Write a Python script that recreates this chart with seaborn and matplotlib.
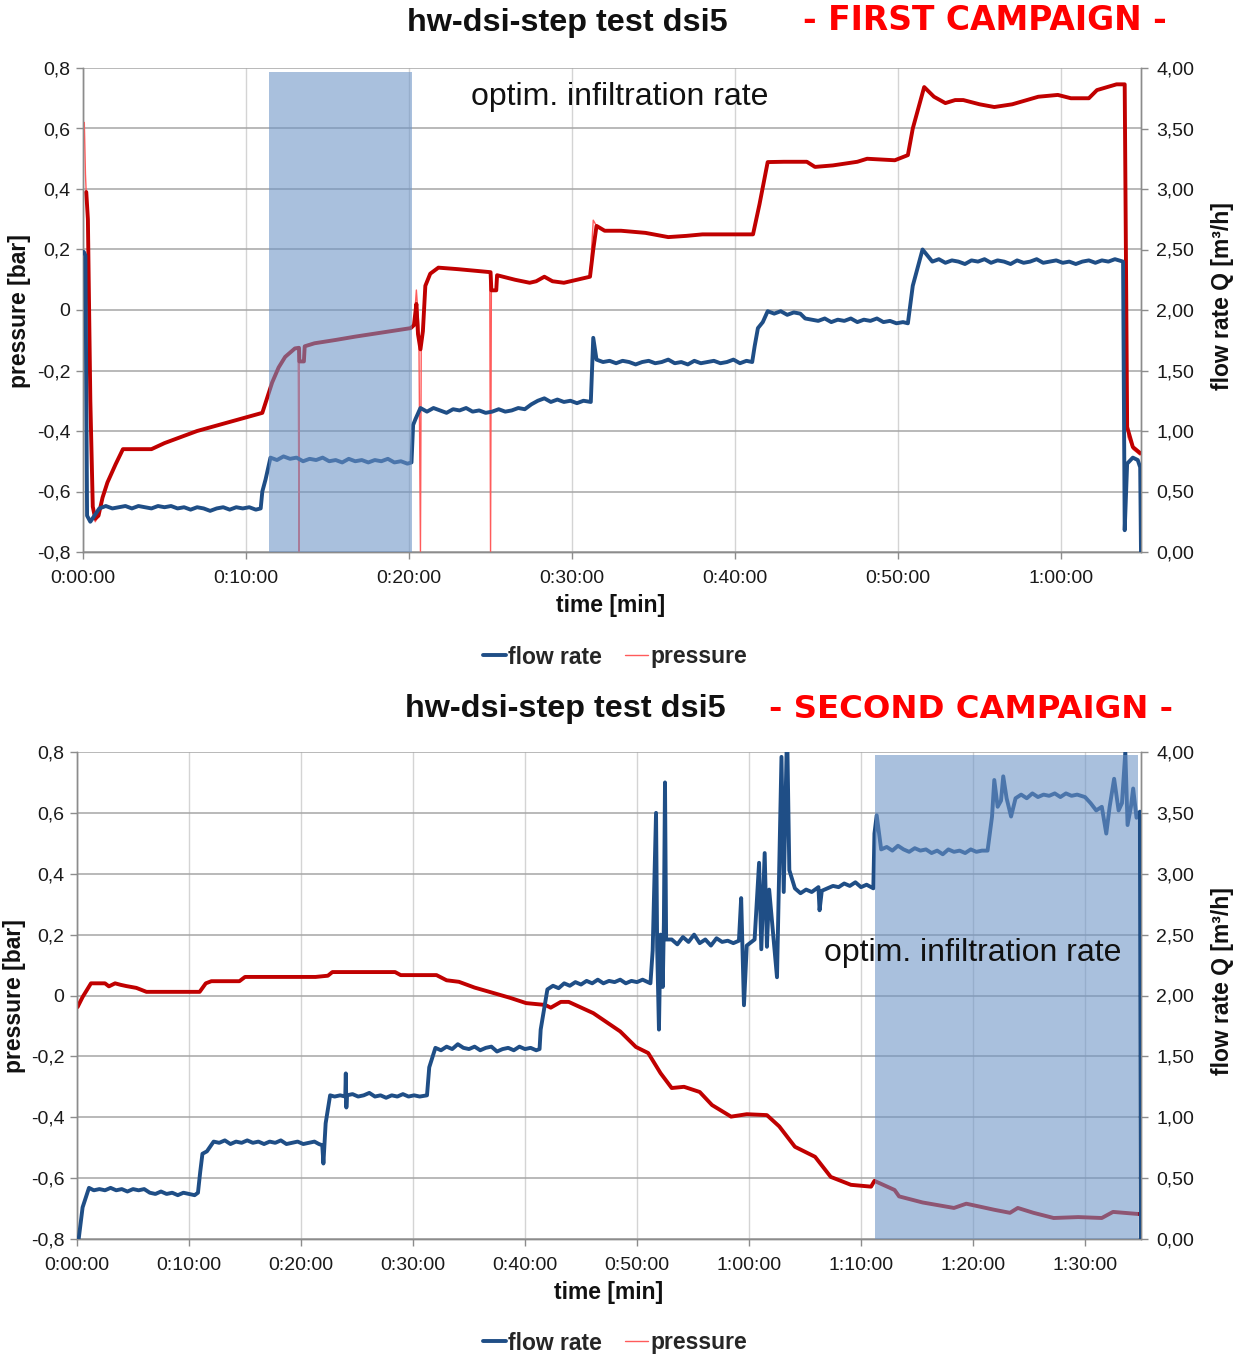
import matplotlib
matplotlib.use('Agg')
import matplotlib.pyplot as plt
import seaborn as sns
from matplotlib.lines import Line2D
from matplotlib.ticker import FuncFormatter, MultipleLocator

# ---------------- first campaign (time in minutes) ----------------
c1_flow_t = [0.05, 0.15, 0.25, 0.45, 0.7, 1.0, 1.4, 1.8, 2.2, 2.6, 3.0, 3.4, 3.8, 4.2, 4.6, 5.0,
             5.4, 5.8, 6.2, 6.6, 7.0, 7.4, 7.8, 8.2, 8.6, 9.0, 9.4, 9.8, 10.2, 10.6, 10.9,
             11.0, 11.2, 11.5, 11.9, 12.3, 12.7, 13.1, 13.5, 13.9, 14.3, 14.7, 15.1, 15.5, 15.9,
             16.3, 16.7, 17.1, 17.5, 17.9, 18.3, 18.7, 19.1, 19.5, 19.9, 20.15,
             20.25, 20.4, 20.7, 21.1, 21.5, 21.9, 22.3, 22.7, 23.1, 23.5, 23.9, 24.3, 24.7, 25.1,
             25.5, 25.9, 26.3, 26.7, 27.1,
             27.5, 27.9, 28.3, 28.7, 29.1, 29.5, 29.9, 30.3, 30.7, 31.15,
             31.3, 31.5, 31.9, 32.3, 32.7, 33.1, 33.5, 33.9, 34.3, 34.7, 35.1, 35.5, 35.9, 36.3,
             36.7, 37.1, 37.5, 37.9, 38.3, 38.7, 39.1, 39.5, 39.9, 40.3, 40.7, 41.05,
             41.2, 41.4, 41.7, 42.0, 42.4, 42.8, 43.2, 43.6, 44.0, 44.3, 44.7, 45.1, 45.5, 45.9,
             46.3, 46.7, 47.1, 47.5, 47.9, 48.3, 48.7, 49.1, 49.5, 49.9, 50.3, 50.6,
             50.9, 51.2, 51.5, 51.8, 52.1, 52.5, 52.9, 53.3, 53.7, 54.1, 54.5, 54.9, 55.3, 55.7,
             56.1, 56.5, 56.9, 57.3, 57.7, 58.1, 58.5, 58.9, 59.3, 59.7, 60.1, 60.5, 60.9, 61.3,
             61.7, 62.1, 62.5, 62.9, 63.3, 63.8,
             63.9, 64.05, 64.4, 64.7, 64.85, 64.9]
c1_flow = [2.48, 2.45, 0.30, 0.25, 0.30, 0.36, 0.38, 0.36, 0.37, 0.38, 0.36, 0.38, 0.37, 0.36, 0.38, 0.37,
           0.38, 0.36, 0.37, 0.35, 0.37, 0.36, 0.34, 0.36, 0.37, 0.35, 0.37, 0.36, 0.37, 0.35, 0.36,
           0.50, 0.60, 0.78, 0.76, 0.79, 0.77, 0.78, 0.75, 0.77, 0.76, 0.78, 0.75, 0.76, 0.74,
           0.77, 0.75, 0.76, 0.74, 0.76, 0.75, 0.77, 0.74, 0.75, 0.73, 0.74,
           1.05, 1.10, 1.19, 1.16, 1.19, 1.17, 1.15, 1.18, 1.17, 1.19, 1.16, 1.17, 1.15, 1.16,
           1.18, 1.16, 1.17, 1.19, 1.18,
           1.22, 1.25, 1.27, 1.24, 1.26, 1.24, 1.25, 1.23, 1.25, 1.24,
           1.77, 1.59, 1.57, 1.58, 1.56, 1.58, 1.57, 1.55, 1.57, 1.58, 1.56, 1.57, 1.59, 1.56,
           1.57, 1.55, 1.58, 1.56, 1.57, 1.58, 1.56, 1.57, 1.59, 1.56, 1.58, 1.57,
           1.70, 1.85, 1.90, 1.99, 1.97, 1.99, 1.96, 1.98, 1.97, 1.93, 1.92, 1.91, 1.93, 1.90,
           1.92, 1.91, 1.93, 1.90, 1.92, 1.91, 1.93, 1.90, 1.91, 1.89, 1.90, 1.89,
           2.20, 2.35, 2.50, 2.45, 2.40, 2.42, 2.39, 2.41, 2.40, 2.38, 2.41, 2.40, 2.42, 2.39,
           2.41, 2.40, 2.38, 2.41, 2.39, 2.40, 2.42, 2.39, 2.40, 2.41, 2.39, 2.40, 2.38, 2.40,
           2.41, 2.39, 2.41, 2.40, 2.42, 2.40,
           0.18, 0.73, 0.78, 0.76, 0.70, 0.0]

c1_ptrend_t = [0.2, 0.3, 0.45, 0.6, 0.75, 0.95, 1.2, 1.5, 2.0, 2.45, 4.2, 5.0, 6.0, 7.0, 8.0, 9.0,
               10.0, 11.0, 11.3, 11.6, 12.0, 12.4, 13.0, 13.25, 13.27, 13.55, 13.6, 14.2, 15.5,
               16.7, 18.4, 20.1, 20.3, 20.45, 20.55, 20.7, 20.85, 21.0, 21.3, 21.8, 23.0, 24.0,
               25.0, 25.05, 25.35, 25.4, 26.5, 27.4, 27.8, 28.3, 28.8, 29.5, 30.3, 31.1, 31.3,
               31.5, 32.0, 33.0, 34.5, 35.9, 37.0, 38.0, 41.1, 41.5, 42.0, 43.0, 44.4, 44.9, 46.0,
               47.5, 48.1, 49.8, 50.6, 50.9, 51.6, 52.2, 52.9, 53.5, 54.0, 55.0, 55.9, 57.0, 58.6,
               59.8, 60.6, 61.7, 62.2, 63.4, 63.9, 64.0, 64.05, 64.4, 64.85]
c1_ptrend = [0.39, 0.30, -0.30, -0.65, -0.69, -0.68, -0.62, -0.57, -0.51, -0.46, -0.46, -0.44, -0.42,
             -0.40, -0.385, -0.37, -0.355, -0.34, -0.29, -0.24, -0.19, -0.155, -0.127, -0.125,
             -0.17, -0.17, -0.12, -0.11, -0.099, -0.088, -0.074, -0.06, -0.05, 0.02, -0.08, -0.13,
             -0.07, 0.08, 0.12, 0.14, 0.135, 0.13, 0.125, 0.065, 0.065, 0.115, 0.10, 0.09, 0.095,
             0.11, 0.095, 0.09, 0.10, 0.11, 0.20, 0.278, 0.262, 0.262, 0.255, 0.241, 0.245, 0.25,
             0.25, 0.35, 0.489, 0.49, 0.49, 0.473, 0.478, 0.49, 0.50, 0.495, 0.512, 0.60, 0.737,
             0.705, 0.684, 0.694, 0.694, 0.68, 0.671, 0.68, 0.705, 0.711, 0.70, 0.70, 0.727, 0.746,
             0.746, 0.0, -0.387, -0.453, -0.473]

# raw pressure signal (thin line) with its drop-out spikes
c1_praw_t = [0.03, 0.08, 0.15, 0.3, 0.45, 0.6, 0.75, 0.95, 1.2, 1.5, 2.0, 2.45, 4.2, 5.0, 6.0,
             7.0, 8.0, 9.0, 10.0, 11.0, 11.3, 11.6, 12.0, 12.4, 13.0, 13.2, 13.25, 13.27, 13.55,
             13.6, 14.2, 15.5, 16.7, 18.4, 20.1, 20.3, 20.45, 20.6, 20.7, 20.75, 20.85, 21.0,
             21.3, 21.8, 23.0, 24.0, 24.95, 25.0, 25.05, 25.35, 25.4, 26.5, 27.4, 27.8, 28.3,
             28.8, 29.5, 30.3, 31.1, 31.3, 31.5, 32.0, 33.0, 34.5, 35.9, 37.0, 38.0, 41.1, 41.5,
             42.0, 43.0, 44.4, 44.9, 46.0, 47.5, 48.1, 49.8, 50.6, 50.9, 51.6, 52.2, 52.9, 53.5,
             54.0, 55.0, 55.9, 57.0, 58.6, 59.8, 60.6, 61.7, 62.2, 63.4, 63.9, 64.0, 64.1, 64.4,
             64.85]
c1_praw = [0.60, 0.62, 0.45, 0.25, -0.30, -0.65, -0.70, -0.68, -0.62, -0.57, -0.51, -0.46, -0.46,
           -0.44, -0.42, -0.40, -0.385, -0.37, -0.355, -0.34, -0.29, -0.24, -0.19, -0.155, -0.127,
           -0.126, -0.80, -0.17, -0.17, -0.12, -0.11, -0.099, -0.088, -0.074, -0.06, -0.05,
           0.066, -0.05, -0.80, -0.10, -0.07, 0.08, 0.12, 0.14, 0.135, 0.13, 0.125, -0.80, 0.065,
           0.065, 0.115, 0.10, 0.09, 0.095, 0.11, 0.095, 0.09, 0.10, 0.11, 0.297, 0.278, 0.262,
           0.262, 0.255, 0.241, 0.245, 0.25, 0.25, 0.35, 0.489, 0.49, 0.49, 0.473, 0.478, 0.49,
           0.50, 0.495, 0.512, 0.60, 0.737, 0.705, 0.684, 0.694, 0.694, 0.68, 0.671, 0.68, 0.705,
           0.711, 0.70, 0.70, 0.727, 0.746, 0.746, 0.0, -0.42, -0.46, -0.48]

c1_optim = (11.4, 20.2)

# ---------------- second campaign ----------------
c2_flow_t = [0.15, 0.5, 1.07, 1.5, 2.0, 2.5, 3.0, 3.5, 4.0, 4.5, 5.0, 5.5, 6.0, 6.5, 7.0, 7.5, 8.0,
             8.5, 9.0, 9.5, 10.0, 10.5, 10.8,
             11.0, 11.2, 11.6, 12.2, 12.7, 13.2, 13.7, 14.2, 14.7, 15.2, 15.7, 16.2, 16.7, 17.2,
             17.7, 18.2, 18.7, 19.2, 19.7, 20.2, 20.7, 21.2, 21.6, 21.9,
             22.0, 22.2, 22.6,
             23.0, 23.5, 23.95, 24.0, 24.05, 24.1, 24.6, 25.1, 25.6, 26.1, 26.6, 27.1, 27.6, 28.1,
             28.6, 29.1, 29.6, 30.1, 30.6, 31.25,
             31.45, 32.0,
             32.5, 33.0, 33.5, 34.0, 34.5, 35.0, 35.5, 36.0, 36.5, 37.0, 37.5, 38.0, 38.5, 39.0,
             39.5, 40.0, 40.5, 41.0, 41.3,
             41.4, 42.0, 42.5, 43.0, 43.5, 44.0, 44.5, 45.0, 45.5, 46.0, 46.5, 47.0, 47.5, 48.0,
             48.5, 49.0, 49.5, 50.0, 50.5, 51.2,
             51.4, 51.7, 51.8, 51.96, 52.1, 52.3, 52.4, 52.5, 52.6,
             53.1, 53.6, 54.1, 54.6, 55.1, 55.6, 56.1, 56.6, 57.1, 57.6, 58.1, 58.6, 59.1,
             59.3, 59.55, 59.8, 60.5, 60.9, 61.1, 61.4, 61.6, 61.8, 62.5, 62.9, 63.1, 63.4, 63.6,
             64.1, 64.6, 65.1, 65.6, 66.2, 66.3, 66.5, 67.0, 67.5, 68.0, 68.5, 69.0, 69.5, 70.0,
             70.5, 71.1,
             71.2, 71.4, 71.8, 72.3, 72.8, 73.3, 73.8, 74.3, 74.8, 75.3, 75.8, 76.3, 76.8, 77.3,
             77.8, 78.3, 78.8, 79.3, 79.8, 80.3, 80.8, 81.3,
             81.7, 81.9, 82.2, 82.5, 82.7, 83.0, 83.4, 83.8, 84.3, 84.8, 85.3, 85.8, 86.3, 86.8,
             87.3, 87.8, 88.3, 88.8, 89.3, 90.0, 90.5, 91.0, 91.5, 91.9, 92.2, 92.6, 93.0, 93.3,
             93.6, 93.8, 94.1, 94.3, 94.6, 94.9, 94.97]
c2_flow = [0.0, 0.26, 0.42, 0.40, 0.41, 0.40, 0.42, 0.40, 0.41, 0.39, 0.41, 0.40, 0.41, 0.38, 0.37, 0.39, 0.37,
           0.38, 0.36, 0.38, 0.37, 0.36, 0.38,
           0.55, 0.70, 0.72, 0.80, 0.79, 0.81, 0.78, 0.80, 0.79, 0.81, 0.79, 0.80, 0.78, 0.80,
           0.79, 0.81, 0.78, 0.79, 0.80, 0.78, 0.79, 0.80, 0.78, 0.77,
           0.62, 0.95, 1.18,
           1.17, 1.18, 1.17, 1.36, 1.08, 1.18, 1.19, 1.17, 1.18, 1.20, 1.17, 1.18, 1.16, 1.18,
           1.17, 1.19, 1.17, 1.18, 1.17, 1.18,
           1.41, 1.57,
           1.55, 1.58, 1.56, 1.60, 1.57, 1.56, 1.58, 1.55, 1.57, 1.58, 1.54, 1.56, 1.57, 1.55,
           1.58, 1.56, 1.57, 1.55, 1.56,
           1.72, 2.05, 2.08, 2.06, 2.10, 2.08, 2.11, 2.09, 2.12, 2.10, 2.13, 2.10, 2.12, 2.11,
           2.13, 2.10, 2.12, 2.11, 2.13, 2.10,
           2.37, 3.50, 2.40, 1.72, 2.50, 2.07, 2.60, 3.75, 2.46,
           2.46, 2.42, 2.48, 2.44, 2.50, 2.43, 2.46, 2.41, 2.47, 2.44, 2.45, 2.43, 2.45,
           2.80, 1.92, 2.41, 2.46, 3.09, 2.38, 3.17, 2.40, 2.87, 2.15, 3.96, 2.85, 4.20, 3.03,
           2.88, 2.84, 2.87, 2.85, 2.89, 2.70, 2.86, 2.88, 2.90, 2.89, 2.92, 2.90, 2.93, 2.89,
           2.91, 2.88,
           3.33, 3.48, 3.20, 3.22, 3.19, 3.23, 3.20, 3.18, 3.21, 3.19, 3.20, 3.17, 3.19, 3.16,
           3.20, 3.18, 3.19, 3.17, 3.20, 3.18, 3.19, 3.19,
           3.47, 3.77, 3.55, 3.60, 3.80, 3.62, 3.47, 3.62, 3.65, 3.62, 3.66, 3.63, 3.65, 3.64,
           3.66, 3.63, 3.66, 3.64, 3.65, 3.63, 3.58, 3.52, 3.55, 3.33, 3.55, 3.78, 3.52, 3.58,
           4.00, 3.40, 3.55, 3.70, 3.46, 3.51, 0.0]

c2_pres_t = [0.05, 0.5, 1.25, 2.5, 2.85, 3.4, 3.9, 4.4, 5.3, 6.2, 10.95, 11.5, 12.0, 14.5, 15.0, 21.3,
             22.4, 22.8, 28.4, 28.9, 32.1, 33.0, 34.1, 35.5, 37.2, 38.7, 40.1, 41.8, 42.3, 43.2,
             43.9, 46.1, 48.5, 49.9, 51.0, 52.1, 53.1, 54.2, 55.6, 56.7, 58.4, 59.8, 61.6, 62.7,
             64.1, 65.9, 67.3, 69.1, 70.9, 71.2, 73.0, 73.4, 75.5, 78.3, 79.4, 81.9, 83.3, 84.0,
             85.4, 87.2, 89.4, 91.5, 92.5, 94.8]
c2_pres = [-0.038, -0.005, 0.04, 0.04, 0.03, 0.04, 0.035, 0.031, 0.025, 0.012, 0.012, 0.04, 0.047,
           0.047, 0.061, 0.061, 0.065, 0.077, 0.077, 0.067, 0.067, 0.05, 0.045, 0.026, 0.008,
           -0.008, -0.025, -0.031, -0.04, -0.021, -0.021, -0.058, -0.118, -0.169, -0.189,
           -0.255, -0.304, -0.30, -0.317, -0.36, -0.398, -0.39, -0.393, -0.43, -0.497, -0.53,
           -0.596, -0.622, -0.628, -0.609, -0.639, -0.66, -0.68, -0.698, -0.684, -0.704, -0.714,
           -0.698, -0.714, -0.731, -0.728, -0.731, -0.711, -0.718]

c2_optim = (71.25, 94.75)

FLOW_C = '#1f4e86'
PRES_C = '#c00000'
PRES_RAW_C = '#ff5b5b'
SHADE_C = '#6b93c6'
GRID_H = '#a6a6a6'
GRID_V = '#d4d4d4'
SPINE_C = '#8c8c8c'
LW = 2.8

sns.set_theme(style='white')
plt.rcParams['font.family'] = ['Liberation Sans', 'DejaVu Sans']


def fmt_time(v, pos):
    m = int(round(v))
    return f"{m // 60}:{m % 60:02d}:00"


def fmt_p(v, pos):
    if abs(v) < 1e-9:
        return "0"
    return f"{v:.1f}".replace('.', ',')


def fmt_q(v, pos):
    return f"{v:.2f}".replace('.', ',')


def setup_panel(ax, ax2, xmax):
    ax.set_xlim(0, xmax)
    ax.set_ylim(-0.8, 0.8)
    ax2.set_ylim(0, 4)
    ax.xaxis.set_major_locator(MultipleLocator(10))
    ax.yaxis.set_major_locator(MultipleLocator(0.2))
    ax2.yaxis.set_major_locator(MultipleLocator(0.5))
    ax.xaxis.set_major_formatter(FuncFormatter(fmt_time))
    ax.yaxis.set_major_formatter(FuncFormatter(fmt_p))
    ax2.yaxis.set_major_formatter(FuncFormatter(fmt_q))
    ax.grid(axis='y', color=GRID_H, lw=1.1, zorder=0)
    ax.grid(axis='x', color=GRID_V, lw=1.0, zorder=0)
    ax.set_axisbelow(True)
    for a in (ax, ax2):
        for s in a.spines.values():
            s.set_color(SPINE_C)
            s.set_linewidth(1.0)
        a.spines['top'].set_visible(False)
    ax.tick_params(axis='both', which='major', direction='out', length=5, width=1,
                   color=SPINE_C, labelsize=14, labelcolor='#1a1a1a', pad=4)
    ax.tick_params(axis='y', left=True)
    ax.tick_params(axis='x', bottom=True, pad=8)
    ax2.tick_params(axis='y', right=True, direction='out', length=5, width=1,
                    color=SPINE_C, labelsize=14, labelcolor='#1a1a1a', pad=6)
    ax.set_xlabel('')
    ax.set_ylabel('')
    ax2.set_ylabel('')


def fig_label(x, y, s, rot=0):
    fig.text(x / 1244, 1 - y / 1356, s, ha='center', va='center', rotation=rot,
             fontsize=16.5, fontweight='bold', color='#111111')


fig = plt.figure(figsize=(12.44, 13.56), dpi=100)

# ---------- top panel ----------
ax1 = fig.add_axes([83 / 1244, 1 - 552 / 1356, 1058 / 1244, 484 / 1356])
ax1b = ax1.twinx()
sns.lineplot(x=c1_praw_t, y=c1_praw, ax=ax1, color=PRES_RAW_C, lw=1.0, sort=False, estimator=None, zorder=3)
sns.lineplot(x=c1_ptrend_t, y=c1_ptrend, ax=ax1, color=PRES_C, lw=LW, sort=False, estimator=None, zorder=4)
sns.lineplot(x=c1_flow_t, y=c1_flow, ax=ax1b, color=FLOW_C, lw=LW, sort=False, estimator=None, zorder=3)
ax1b.axvspan(*c1_optim, ymin=0, ymax=3.965 / 4, color=SHADE_C, alpha=0.58, lw=0, zorder=5)
setup_panel(ax1, ax1b, 64.9)
ax1b.text(0.5076, 0.94, 'optim. infiltration rate', transform=ax1b.transAxes,
          ha='center', va='center', fontsize=23, color='#111111', zorder=6)
fig_label(611, 605, 'time [min]')
fig_label(20, 311, 'pressure [bar]', 90)
fig_label(1222, 296, 'flow rate Q [m\u00b3/h]', 90)

# ---------- bottom panel ----------
ax2 = fig.add_axes([77 / 1244, 1 - 1239 / 1356, 1064 / 1244, 487 / 1356])
ax2b = ax2.twinx()
sns.lineplot(x=c2_pres_t, y=c2_pres, ax=ax2, color=PRES_RAW_C, lw=1.0, sort=False, estimator=None, zorder=3)
sns.lineplot(x=c2_pres_t, y=c2_pres, ax=ax2, color=PRES_C, lw=LW, sort=False, estimator=None, zorder=4)
sns.lineplot(x=c2_flow_t, y=c2_flow, ax=ax2b, color=FLOW_C, lw=LW, sort=False, estimator=None, zorder=3)
ax2b.axvspan(*c2_optim, ymin=0, ymax=3.975 / 4, color=SHADE_C, alpha=0.58, lw=0, zorder=5)
setup_panel(ax2, ax2b, 95.0)
ax2b.text(0.842, 0.587, 'optim. infiltration rate', transform=ax2b.transAxes,
          ha='center', va='center', fontsize=23, color='#111111', zorder=6)
fig_label(609, 1292, 'time [min]')
fig_label(15, 996, 'pressure [bar]', 90)
fig_label(1222, 981, 'flow rate Q [m\u00b3/h]', 90)

# ---------- titles ----------
fig.text(567 / 1244, 1 - 23 / 1356, 'hw-dsi-step test dsi5', ha='center', va='center',
         fontsize=23.3, fontweight='bold', color='#111111')
fig.text(985 / 1244, 1 - 21 / 1356, '- FIRST CAMPAIGN -', ha='center', va='center',
         fontsize=23.8, fontweight='bold', color='#ff0000', family=['DejaVu Sans'])
fig.text(565 / 1244, 1 - 709 / 1356, 'hw-dsi-step test dsi5', ha='center', va='center',
         fontsize=23.3, fontweight='bold', color='#111111')
fig.text(971 / 1244, 1 - 709 / 1356, '- SECOND CAMPAIGN -', ha='center', va='center',
         fontsize=23.3, fontweight='bold', color='#ff0000', family=['DejaVu Sans'])

# ---------- legends ----------
handles = [Line2D([], [], color=FLOW_C, lw=LW), Line2D([], [], color=PRES_RAW_C, lw=1.0)]
labels = ['flow rate', 'pressure']
for ycen in (657, 1343):
    fig.legend(handles, labels, loc='center', bbox_to_anchor=(615 / 1244, 1 - ycen / 1356),
               ncol=2, frameon=False, handlelength=1.0, handletextpad=0.1, columnspacing=1.0,
               prop={'size': 16.5, 'weight': 'bold'})

for a in (ax1, ax1b, ax2, ax2b):
    leg = a.get_legend()
    if leg is not None:
        leg.remove()

fig.savefig('out.png', dpi=100)
plt.close(fig)
